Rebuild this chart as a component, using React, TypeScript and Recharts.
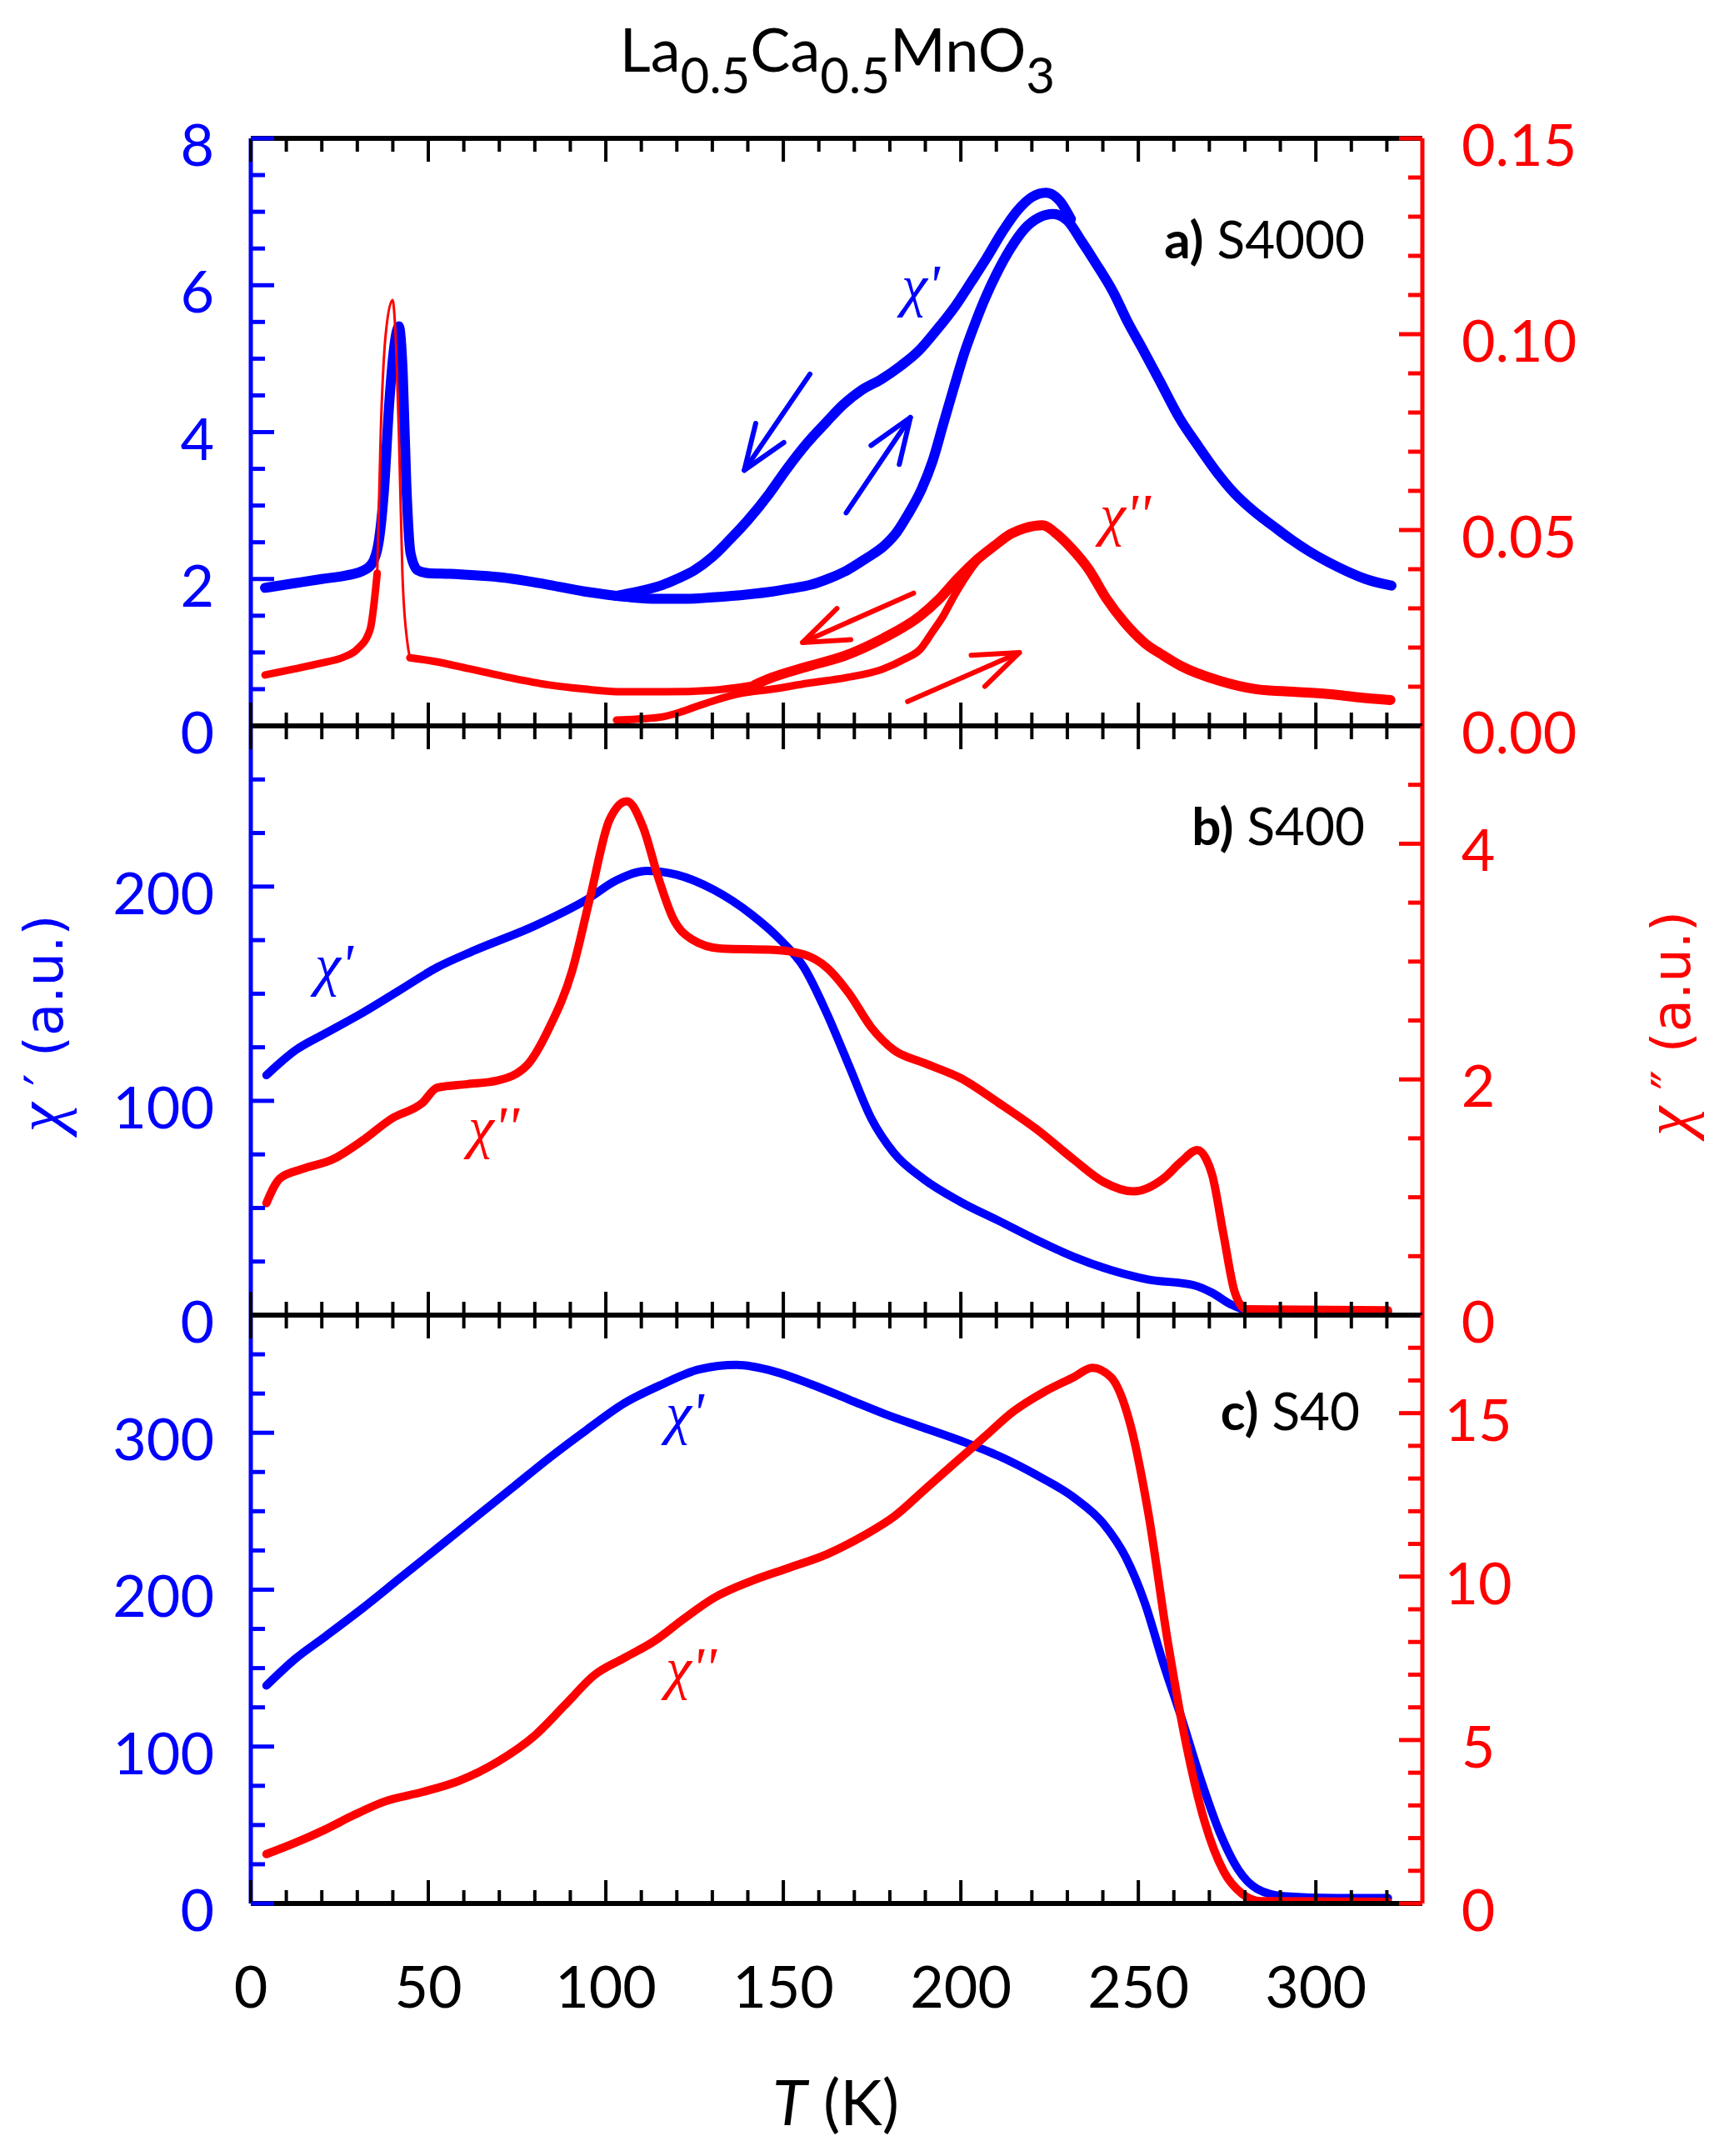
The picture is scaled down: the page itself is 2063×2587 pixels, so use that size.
import React from 'react'
import { LineChart, Line, XAxis, YAxis, ReferenceLine } from 'recharts'

const W = 2063
const H = 2587
const LEFT = 301
const RIGHT = 1707
// top of panel a, a/b boundary, b/c boundary, bottom of panel c
const EDGES = [166, 871, 1578, 2284]

const BLUE = '#0000ff'
const RED = '#ff0000'
const SANS = 'Lato, "Open Sans", sans-serif'
const SERIF = '"Liberation Serif", "DejaVu Serif", serif'

// temperature axis
const T_DOMAIN = [0, 330]
const T_TICKS = [0, 10, 20, 30, 40, 50, 60, 70, 80, 90, 100, 110, 120, 130, 140, 150, 160, 170, 180, 190, 200, 210, 220, 230, 240, 250, 260, 270, 280, 290, 300, 310, 320]
const T_MAJOR = [0, 50, 100, 150, 200, 250, 300]

// panel a) S4000 axes
const A_LEFT_TICKS = [0, 0.5, 1, 1.5, 2, 2.5, 3, 3.5, 4, 4.5, 5, 5.5, 6, 6.5, 7, 7.5, 8]
const A_LEFT_MAJOR = [0, 2, 4, 6, 8]
const A_LEFT_LABELS = ['0', '2', '4', '6', '8']
const A_RIGHT_TICKS = [0, 0.01, 0.02, 0.03, 0.04, 0.05, 0.06, 0.07, 0.08, 0.09, 0.1, 0.11, 0.12, 0.13, 0.14, 0.15]
const A_RIGHT_MAJOR = [0, 0.05, 0.1, 0.15]
const A_RIGHT_LABELS = ['0.00', '0.05', '0.10', '0.15']

// panel b) S400 axes
const B_LEFT_TICKS = [0, 25, 50, 75, 100, 125, 150, 175, 200, 225, 250]
const B_LEFT_MAJOR = [0, 100, 200]
const B_LEFT_LABELS = ['0', '100', '200']
const B_RIGHT_TICKS = [0, 0.5, 1, 1.5, 2, 2.5, 3, 3.5, 4, 4.5]
const B_RIGHT_MAJOR = [0, 2, 4]
const B_RIGHT_LABELS = ['0', '2', '4']

// panel c) S40 axes
const C_LEFT_TICKS = [0, 25, 50, 75, 100, 125, 150, 175, 200, 225, 250, 275, 300, 325, 350]
const C_LEFT_MAJOR = [0, 100, 200, 300]
const C_LEFT_LABELS = ['0', '100', '200', '300']
const C_RIGHT_TICKS = [0, 1, 2, 3, 4, 5, 6, 7, 8, 9, 10, 11, 12, 13, 14, 15, 16, 17]
const C_RIGHT_MAJOR = [0, 5, 10, 15]
const C_RIGHT_LABELS = ['0', '5', '10', '15']

// a) chi' : common low-T part, cooling branch, heating branch  [T, chi']
const A_CHI1_BASE = [[4, 1.88], [12, 1.94], [20, 2.0], [27, 2.05], [31, 2.1], [34, 2.2], [36, 2.5], [37.5, 3.2], [39, 4.4], [40.5, 5.2], [41.7, 5.44], [42.8, 4.8], [43.8, 3.3], [45, 2.35], [47, 2.12], [50, 2.08], [56, 2.07], [63, 2.05], [71, 2.02], [78, 1.97], [84, 1.92], [94, 1.83], [103, 1.77]]
const A_CHI1_COOL = [[103, 1.77], [105, 1.79], [110, 1.84], [116, 1.92], [120, 2.0], [125, 2.12], [130, 2.3], [135, 2.54], [140, 2.8], [146, 3.16], [151, 3.5], [156.5, 3.84], [162, 4.13], [167, 4.38], [172, 4.57], [177.6, 4.72], [183, 4.9], [188, 5.1], [193, 5.38], [198.5, 5.72], [203, 6.05], [207, 6.35], [212, 6.75], [216, 7.02], [220, 7.2], [224, 7.26], [228, 7.14], [231, 6.9]]
const A_CHI1_HEAT = [[103, 1.77], [110, 1.74], [116, 1.73], [123, 1.73], [130, 1.75], [140, 1.79], [147, 1.83], [152, 1.87], [157.6, 1.92], [163, 2.01], [168, 2.12], [173, 2.27], [178.6, 2.46], [182, 2.64], [185, 2.87], [189, 3.23], [192, 3.6], [195, 4.1], [198, 4.6], [201, 5.08], [204, 5.48], [207, 5.84], [210, 6.15], [214, 6.5], [218, 6.77], [222, 6.92], [226, 6.97], [230, 6.88], [234, 6.6], [238, 6.3], [243, 5.9], [247, 5.5], [251, 5.15], [256, 4.7], [261.6, 4.19], [267, 3.8], [272, 3.46], [277, 3.17], [282.6, 2.92], [288, 2.72], [293, 2.54], [298, 2.38], [303.5, 2.23], [309, 2.1], [314, 2.0], [321.3, 1.91]]

// a) chi'' pieces [T, chi'']
const A_CHI2_LOW = [[4, 0.013], [12, 0.0145], [19.6, 0.016], [26, 0.0175], [30, 0.0196], [33.6, 0.0246], [35.6, 0.039]]
const A_CHI2_SPIKE = [[35.6, 0.039], [36.6, 0.075], [38, 0.1], [39.9, 0.1087], [41, 0.095], [41.7, 0.075], [42.7, 0.039], [44, 0.022], [44.8, 0.0174]]
const A_CHI2_MID = [[44.8, 0.0174], [51.5, 0.0165], [62, 0.0145], [73, 0.0123], [83.6, 0.0105], [94, 0.0094], [104.5, 0.0087], [117, 0.0087], [130, 0.0091], [142, 0.0105]]
const A_CHI2_COOL = [[142, 0.0105], [146.7, 0.0123], [157, 0.0152], [167.6, 0.018], [178, 0.0223], [188.6, 0.0281], [194, 0.0325], [199, 0.0375], [204, 0.042], [209.5, 0.046], [214, 0.049], [218, 0.0505], [223, 0.0512], [227, 0.049], [231, 0.0455], [236, 0.04], [241, 0.0325], [246, 0.0265], [252, 0.021], [257, 0.018], [262, 0.0153], [272.6, 0.0116], [283, 0.0094], [293.6, 0.0087], [304, 0.0081], [312, 0.0073], [321, 0.0066]]
const A_CHI2_HEAT = [[103, 0.0015], [110, 0.0018], [116, 0.0023], [121, 0.0035], [126, 0.0051], [131, 0.0066], [137, 0.0081], [147, 0.0094], [157, 0.0109], [167.6, 0.0123], [178, 0.0145], [184, 0.017], [188.6, 0.0196], [192, 0.024], [195, 0.028], [198, 0.033], [201, 0.0375], [205, 0.0425], [209.5, 0.046]]

// b) S400
const B_CHI1 = [[4.4, 112], [12.4, 123.4], [20.9, 131.4], [31.4, 141], [42, 151.7], [52.5, 162.3], [63, 170.2], [80, 181.7], [94.7, 194], [103, 202.9], [111.5, 207.3], [120, 205.5], [130.5, 198.4], [141, 187], [149.5, 174.6], [155.8, 162.3], [162.2, 141], [168.5, 116.4], [174.8, 91.7], [181.1, 75.8], [189.6, 63.4], [200, 52.8], [210.7, 44], [221.2, 35.2], [231.8, 27.2], [242.3, 21], [252.8, 16.6], [265.5, 14], [270.8, 10.4], [276, 5.1], [280.3, 2.5], [295, 2.2], [320.3, 1.7]]
const B_CHI2 = [[4.4, 0.95], [8.2, 1.16], [14.5, 1.24], [23, 1.32], [31.4, 1.48], [39.8, 1.67], [48.3, 1.8], [52.5, 1.93], [61, 1.96], [69.4, 1.99], [77.8, 2.12], [84.1, 2.44], [90.5, 2.92], [95.7, 3.56], [101, 4.2], [105.9, 4.36], [110.5, 4.14], [114.7, 3.72], [118.9, 3.37], [124.2, 3.19], [132.6, 3.11], [147.4, 3.1], [155.8, 3.06], [162.2, 2.95], [168.5, 2.73], [174.8, 2.44], [181.1, 2.25], [189.6, 2.14], [200, 2.01], [210.7, 1.8], [221.2, 1.58], [231.8, 1.32], [240.2, 1.13], [248.6, 1.05], [257.1, 1.16], [262, 1.3], [266.6, 1.4], [269, 1.33], [270.8, 1.19], [274, 0.68], [277.1, 0.2], [280.3, 0.05], [320.3, 0.04]]

// c) S40
const C_CHI1 = [[4.4, 138.9], [12.4, 155.7], [20.9, 170], [31.4, 188], [42, 207.3], [52.5, 226.4], [63, 245.6], [73.6, 264.8], [84.1, 284], [94.7, 302], [105.2, 318.8], [115.8, 330.8], [126.3, 340.4], [136.9, 343.2], [147.4, 339.1], [158, 330.8], [168.5, 321.2], [179, 311.6], [189.6, 303.2], [200.1, 294.8], [210.7, 285.2], [221.2, 273.2], [231.8, 258.8], [240.2, 242], [246.5, 220.4], [251.8, 191.7], [257, 153.3], [262.3, 117.3], [267.6, 78.9], [272.9, 45.4], [278.2, 21.4], [283.4, 9.4], [290.8, 4.6], [305.6, 3.4], [320.3, 3.4]]
const C_CHI2 = [[4.4, 1.51], [12.4, 1.85], [20.9, 2.26], [29.3, 2.72], [37.7, 3.12], [48.3, 3.41], [58.8, 3.76], [69.4, 4.33], [80, 5.14], [88.4, 6.06], [96.8, 6.99], [105.2, 7.51], [113.7, 8.03], [122.1, 8.72], [130.5, 9.35], [141.1, 9.87], [151.6, 10.27], [162.2, 10.68], [172.7, 11.26], [181.1, 11.83], [189.6, 12.64], [198, 13.45], [206.4, 14.25], [214.9, 15.06], [223.3, 15.64], [231.8, 16.1], [237, 16.39], [242.3, 16.1], [247.6, 14.71], [252.8, 11.95], [258.1, 8.14], [263.4, 4.91], [268.7, 2.49], [274, 0.99], [279.2, 0.3], [284.5, 0.07], [320.3, 0.05]]

// heating / cooling arrows in panel a: [T, value] tail -> head
const A_ARROWS = [
  { from: [157.5, 4.79], to: [139, 3.48], axis: 'L', color: BLUE },
  { from: [167.7, 2.9], to: [185.8, 4.2], axis: 'L', color: BLUE },
  { from: [186.7, 0.0339], to: [155.4, 0.0213], axis: 'R', color: RED },
  { from: [185, 0.0062], to: [216.5, 0.0187], axis: 'R', color: RED },
]

const pts = (a: number[][]) => a.map(([T, v]) => ({ T, v }))
const find = (list: number[], v: number) => list.findIndex(m => Math.abs(m - v) < 1e-9)

function xTick(dir: 'up' | 'down', labels: boolean) {
  return (p: any) => {
    const v = Number(p.payload.value)
    const major = find(T_MAJOR, v) >= 0
    const len = major ? 28 : 16
    return (
      <g>
        <line x1={p.x} y1={p.y} x2={p.x} y2={dir === 'up' ? p.y - len : p.y + len} stroke="#000" strokeWidth={4} />
        {labels && major && (
          <text x={p.x} y={p.y + 125} textAnchor="middle" fontFamily={SANS} fontSize={70} fill="#000">{v}</text>
        )}
      </g>
    )
  }
}

function yTick(side: 'left' | 'right', majors: number[], labels: string[], color: string, labelX: number, anchor: 'start' | 'middle' | 'end') {
  return (p: any) => {
    const v = Number(p.payload.value)
    const idx = find(majors, v)
    const len = idx >= 0 ? 28 : 17
    return (
      <g>
        <line x1={p.x} y1={p.y} x2={side === 'left' ? p.x + len : p.x - len} y2={p.y} stroke={color} strokeWidth={5} />
        {idx >= 0 && (
          <text x={labelX} y={p.y + 33} textAnchor={anchor} fontFamily={SANS} fontSize={70} fill={color}>{labels[idx]}</text>
        )}
      </g>
    )
  }
}

function ArrowShape(props: any) {
  const { x1, y1, x2, y2, stroke } = props
  const back = Math.atan2(y1 - y2, x1 - x2)
  const L = 58
  const s = 0.36
  const h1x = x2 + L * Math.cos(back + s)
  const h1y = y2 + L * Math.sin(back + s)
  const h2x = x2 + L * Math.cos(back - s)
  const h2y = y2 + L * Math.sin(back - s)
  return (
    <g>
      <line x1={x1} y1={y1} x2={x2} y2={y2} stroke={stroke} strokeWidth={6} strokeLinecap="round" />
      <polyline points={`${h1x},${h1y} ${x2},${y2} ${h2x},${h2y}`} fill="none" stroke={stroke} strokeWidth={6} strokeLinecap="round" strokeLinejoin="round" />
    </g>
  )
}

type Series = { data: number[][]; axis: string; color: string; width: number }
type Scale = { domain: number[]; ticks: number[]; majors: number[]; labels: string[] }
type PanelProps = {
  top: number
  bottom: number
  left: Scale
  right: Scale & { labelX: number; anchor: 'start' | 'middle' | 'end' }
  series: Series[]
  arrows?: typeof A_ARROWS
  xLabels?: boolean
}

function Panel({ top, bottom, left, right, series, arrows = [], xLabels = false }: PanelProps) {
  return (
    <div style={{ position: 'absolute', left: 0, top: 0 }}>
      <LineChart width={W} height={H} margin={{ top, bottom: H - bottom, left: LEFT, right: W - RIGHT }}>
        <XAxis xAxisId="top" orientation="top" mirror type="number" dataKey="T" domain={T_DOMAIN} ticks={T_TICKS} interval={0} height={2}
          tickLine={false} tickSize={0} tickMargin={0} axisLine={{ stroke: '#000', strokeWidth: 6 }} tick={xTick('down', false)} />
        <XAxis xAxisId="bot" orientation="bottom" mirror type="number" dataKey="T" domain={T_DOMAIN} ticks={T_TICKS} interval={0} height={2}
          tickLine={false} tickSize={0} tickMargin={0} axisLine={{ stroke: '#000', strokeWidth: 6 }} tick={xTick('up', xLabels)} />
        <YAxis yAxisId="L" orientation="left" mirror type="number" domain={left.domain} ticks={left.ticks} interval={0} width={2}
          tickLine={false} tickSize={0} tickMargin={0} axisLine={{ stroke: BLUE, strokeWidth: 5 }}
          tick={yTick('left', left.majors, left.labels, BLUE, 257, 'end')} />
        <YAxis yAxisId="R" orientation="right" mirror type="number" domain={right.domain} ticks={right.ticks} interval={0} width={2}
          tickLine={false} tickSize={0} tickMargin={0} axisLine={{ stroke: RED, strokeWidth: 5 }}
          tick={yTick('right', right.majors, right.labels, RED, right.labelX, right.anchor)} />
        {series.map((s, i) => (
          <Line key={i} xAxisId={s.axis === 'R' ? 'top' : 'bot'} yAxisId={s.axis} data={pts(s.data)} dataKey="v" type="monotone" stroke={s.color}
            strokeWidth={s.width} strokeLinecap="round" strokeLinejoin="round" dot={false} activeDot={false} isAnimationActive={false} />
        ))}
        {arrows.map((a, i) => (
          <ReferenceLine key={`ar${i}`} xAxisId="bot" yAxisId={a.axis}
            segment={[{ x: a.from[0], y: a.from[1] }, { x: a.to[0], y: a.to[1] }]}
            stroke={a.color} strokeWidth={6} shape={ArrowShape} />
        ))}
      </LineChart>
    </div>
  )
}

export default function App() {
  return (
    <div style={{ position: 'absolute', left: 0, top: 0, width: W, height: H, background: '#fff' }}>
      <Panel
        top={EDGES[0]}
        bottom={EDGES[1]}
        left={{ domain: [0, 8], ticks: A_LEFT_TICKS, majors: A_LEFT_MAJOR, labels: A_LEFT_LABELS }}
        right={{ domain: [0, 0.15], ticks: A_RIGHT_TICKS, majors: A_RIGHT_MAJOR, labels: A_RIGHT_LABELS, labelX: 1754, anchor: 'start' }}
        series={[
          { data: A_CHI1_BASE, axis: 'L', color: BLUE, width: 12 },
          { data: A_CHI1_COOL, axis: 'L', color: BLUE, width: 12 },
          { data: A_CHI1_HEAT, axis: 'L', color: BLUE, width: 12 },
          { data: A_CHI2_LOW, axis: 'R', color: RED, width: 9 },
          { data: A_CHI2_SPIKE, axis: 'R', color: RED, width: 3 },
          { data: A_CHI2_MID, axis: 'R', color: RED, width: 9 },
          { data: A_CHI2_COOL, axis: 'R', color: RED, width: 12 },
          { data: A_CHI2_HEAT, axis: 'R', color: RED, width: 9 },
        ]}
        arrows={A_ARROWS}
      />
      <Panel
        top={EDGES[1]}
        bottom={EDGES[2]}
        left={{ domain: [0, 275], ticks: B_LEFT_TICKS, majors: B_LEFT_MAJOR, labels: B_LEFT_LABELS }}
        right={{ domain: [0, 5], ticks: B_RIGHT_TICKS, majors: B_RIGHT_MAJOR, labels: B_RIGHT_LABELS, labelX: 1774, anchor: 'middle' }}
        series={[
          { data: B_CHI1, axis: 'L', color: BLUE, width: 10 },
          { data: B_CHI2, axis: 'R', color: RED, width: 10 },
        ]}
      />
      <Panel
        top={EDGES[2]}
        bottom={EDGES[3]}
        left={{ domain: [0, 375], ticks: C_LEFT_TICKS, majors: C_LEFT_MAJOR, labels: C_LEFT_LABELS }}
        right={{ domain: [0, 18], ticks: C_RIGHT_TICKS, majors: C_RIGHT_MAJOR, labels: C_RIGHT_LABELS, labelX: 1774, anchor: 'middle' }}
        series={[
          { data: C_CHI1, axis: 'L', color: BLUE, width: 10 },
          { data: C_CHI2, axis: 'R', color: RED, width: 10 },
        ]}
        xLabels
      />
      <svg width={W} height={H} style={{ position: 'absolute', left: 0, top: 0, pointerEvents: 'none' }}>
        <text x={1005} y={86} textAnchor="middle" fontFamily={SANS} fontSize={72} fill="#000">
          La<tspan fontSize={60} dy={26}>0.5</tspan><tspan dy={-26}>Ca</tspan><tspan fontSize={60} dy={26}>0.5</tspan><tspan dy={-26}>MnO</tspan><tspan fontSize={60} dy={26}>3</tspan>
        </text>

        <text x={1638} y={310} textAnchor="end" fontFamily={SANS} fontSize={62} fill="#000"><tspan fontWeight="bold">a)</tspan> S4000</text>
        <text x={1638} y={1014} textAnchor="end" fontFamily={SANS} fontSize={62} fill="#000"><tspan fontWeight="bold">b)</tspan> S400</text>
        <text x={1632} y={1716} textAnchor="end" fontFamily={SANS} fontSize={62} fill="#000"><tspan fontWeight="bold">c)</tspan> S40</text>

        <g fontFamily={SERIF} fontStyle="italic" fontSize={70}>
          <text x={1082} y={366} fill={BLUE}>χ'</text>
          <text x={1320} y={641} fill={RED}>χ''</text>
          <text x={378} y={1181} fill={BLUE}>χ'</text>
          <text x={562} y={1376} fill={RED}>χ''</text>
          <text x={799} y={1719} fill={BLUE}>χ'</text>
          <text x={799} y={2025} fill={RED}>χ''</text>
        </g>

        <text transform="rotate(-90 75 1228)" x={75} y={1228} textAnchor="middle" fill={BLUE} fontSize={64}>
          <tspan fontFamily={SERIF} fontStyle="italic" fontSize={80}>χ</tspan>
          <tspan fontFamily='"DejaVu Sans", sans-serif'> ′ (a.u.)</tspan>
        </text>
        <text transform="rotate(-90 2028 1228)" x={2028} y={1228} textAnchor="middle" fill={RED} fontSize={64}>
          <tspan fontFamily={SERIF} fontStyle="italic" fontSize={80}>χ</tspan>
          <tspan fontFamily='"DejaVu Sans", sans-serif'> ″ (a.u.)</tspan>
        </text>

        <text x={1003} y={2550} textAnchor="middle" fontFamily={SANS} fontSize={76} fill="#000">
          <tspan fontStyle="italic">T</tspan> (K)
        </text>
      </svg>
    </div>
  )
}
